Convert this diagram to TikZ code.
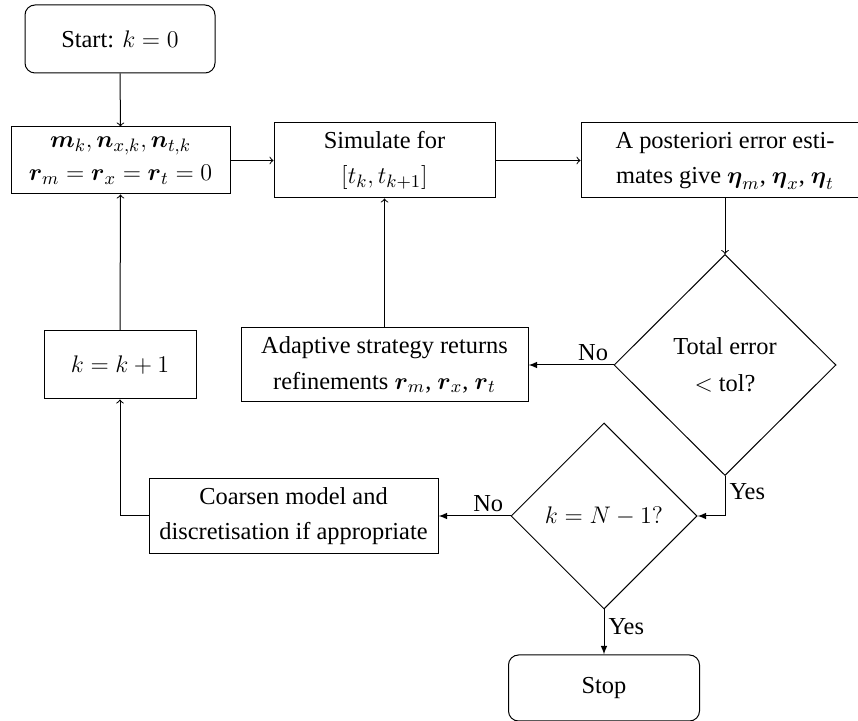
\documentclass[tikz,border=0pt]{standalone}
\usepackage{amsmath}
\usepackage{fontspec}
\setmainfont{Liberation Serif}
\usetikzlibrary{shapes.geometric,arrows}
\tikzset{
  box/.style={draw, rectangle, align=center, inner sep=2pt},
  rbox/.style={draw, rectangle, rounded corners=5pt, align=center},
  dec/.style={draw, diamond, align=center, inner sep=0pt},
  flow/.style={->},
  dflow/.style={-latex},
  lbl/.style={inner sep=2pt}
}
\newcommand{\bsy}[1]{\boldsymbol{#1}}
\begin{document}
\begin{tikzpicture}[x=1pt,y=1pt,line width=0.5pt,font=\fontsize{12.2}{14.6}\selectfont]
\useasboundingbox (0,0) rectangle (429,-360.5);
\clip (0,0) rectangle (429,-360.5);
\node[rbox, minimum width=95pt, minimum height=34pt] (start) at (60,-19.5) {Start: $k=0$};
\node[box, minimum width=109.5pt, minimum height=33.5pt] (init) at (60.25,-80.25)
  {$\bsy{m}_k, \bsy{n}_{x,k}, \bsy{n}_{t,k}$\\[2pt] $\bsy{r}_m=\bsy{r}_x=\bsy{r}_t=0$};
\node[box, minimum width=110.5pt, minimum height=37.5pt] (sim) at (192.25,-80.25)
  {Simulate for\\[3pt] $[t_k, t_{k+1}]$};
\node[box, minimum width=144pt, minimum height=37.5pt] (post) at (362.5,-80.25)
  {A posteriori error esti-\\[3pt] mates give $\bsy{\eta}_m$, $\bsy{\eta}_x$, $\bsy{\eta}_t$};
\node[dec, minimum width=111pt, minimum height=110.5pt] (tot) at (362.5,-182.5)
  {Total error\\[4pt] $<$ tol?};
\node[box, minimum width=143.5pt, minimum height=37pt] (adapt) at (192.25,-182.5)
  {Adaptive strategy returns\\[3pt] refinements $\bsy{r}_m$, $\bsy{r}_x$, $\bsy{r}_t$};
\node[box, minimum width=76pt, minimum height=34pt] (inc) at (60,-182.5) {$k=k+1$};
\node[box, minimum width=144.5pt, minimum height=37.5pt] (coarse) at (146.75,-258)
  {Coarsen model and\\[3pt] discretisation if appropriate};
\node[dec, minimum width=93pt, minimum height=93pt] (last) at (302,-258) {$k=N-1?$};
\node[rbox, minimum width=95.5pt, minimum height=33pt] (stop) at (302,-344) {Stop};

\draw[flow] (start.south) -- (init.north);
\draw[flow] (init.east) -- (sim.west);
\draw[flow] (sim.east) -- (post.west);
\draw[flow] (post.south) -- (tot.north);
\draw[dflow] (tot.west) -- node[lbl, above, pos=0.24] (no1) {No} (adapt.east);
\draw[flow] (adapt.north) -- (sim.south);
\draw[dflow] (tot.south) |- node[lbl, right, pos=0.2] (yes1) {Yes} (last.east);
\draw[dflow] (last.west) -- node[lbl, above, pos=0.31] (no2) {No} (coarse.east);
\draw[dflow] (last.south) -- node[lbl, right, pos=0.37] (yes2) {Yes} (stop.north);
\draw[flow] (coarse.west) -| (inc.south);
\draw[flow] (inc.north) -- (init.south);
\end{tikzpicture}
\end{document}
